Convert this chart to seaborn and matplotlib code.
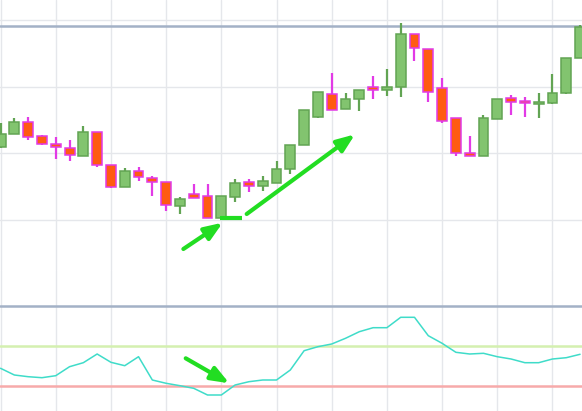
import numpy as np
import pandas as pd
import seaborn as sns
import matplotlib.pyplot as plt
from matplotlib.ticker import MultipleLocator

# candle data (price units, arbitrary scale)
opens = [110.95, 112.9, 114.7, 112.6, 111.4, 110.8, 109.6, 113.2, 108.25, 104.95,
         107.35, 106.3, 105.7, 102.1, 103.9, 103.6, 100.3, 103.45, 105.7, 105.1,
         105.55, 107.65, 111.25, 115.45, 118.9, 116.65, 118.15, 119.95, 119.5, 119.95,
         127.9, 125.65, 119.8, 115.3, 110.05, 109.6, 115.15, 118.3, 117.7, 117.4,
         117.55, 119.05, 124.3]
highs = [114.55, 115.3, 115.45, 112.75, 112.45, 112.0, 114.1, 113.2, 108.25, 107.8,
         107.95, 106.6, 105.7, 103.45, 105.4, 105.4, 103.6, 106.15, 106.15, 106.6,
         108.85, 111.25, 116.5, 119.2, 122.05, 119.05, 119.5, 121.6, 122.65, 129.55,
         127.9, 125.65, 121.3, 115.3, 112.6, 115.75, 118.15, 118.75, 118.45, 119.05,
         121.9, 124.3, 129.25]
lows = [110.8, 112.9, 112.0, 111.25, 109.15, 108.85, 109.6, 107.95, 104.8, 104.95,
        105.85, 103.6, 101.35, 100.9, 103.3, 100.3, 100.3, 102.7, 104.2, 104.35,
        105.55, 106.9, 111.25, 115.3, 116.5, 116.65, 116.35, 118.15, 118.6, 118.45,
        123.85, 117.7, 114.55, 109.6, 109.6, 109.6, 115.15, 115.75, 115.45, 115.3,
        117.4, 118.9, 124.3]
closes = [112.9, 114.7, 112.45, 111.4, 110.95, 109.75, 113.2, 108.25, 104.95, 107.35,
          106.45, 105.7, 102.25, 103.15, 103.3, 100.3, 103.6, 105.55, 105.1, 105.85,
          107.65, 111.25, 116.5, 119.2, 116.5, 118.15, 119.5, 119.5, 119.95, 127.9,
          125.8, 119.2, 114.85, 110.05, 109.6, 115.3, 118.15, 117.7, 117.55, 117.7,
          119.05, 124.3, 128.95]

# oscillator values
osc = [38.85, 35.5, 34.65, 34.15, 35.15, 39.65, 41.65, 46.0, 41.85, 40.15,
       44.65, 33.0, 31.35, 30.15, 28.85, 25.5, 25.5, 30.5, 32.15, 33.0,
       33.0, 38.0, 47.65, 49.65, 51.0, 53.85, 57.15, 59.15, 59.15, 64.35,
       64.35, 55.15, 51.35, 46.85, 46.0, 46.35, 44.65, 43.5, 41.65, 41.65,
       43.5, 44.15, 45.85]
osc_levels = [70, 50, 30]
osc_level_colors = ['#a3b1c6', '#d4f0b0', '#f7aaaa']

resistance = 129.1
support = 100.25

# arrows (start, end) in data units
up_arrow_1 = ((13.25, 95.65), (16.1, 99.6))
up_arrow_2 = ((17.84, 100.9), (25.69, 112.85))
support_seg = (15.9, 17.5)
osc_arrow = ((13.42, 43.85), (16.58, 31.35))

df = pd.DataFrame({'open': opens, 'high': highs, 'low': lows, 'close': closes, 'osc': osc})
df['idx'] = np.arange(len(df))

sns.set_theme(style='white')
fig = plt.figure(figsize=(5.82, 4.11), dpi=100)
ax = fig.add_axes([0, 141 / 411, 1, 270 / 411])
ax2 = fig.add_axes([0, 0, 1, 141 / 411], sharex=ax)

grid_c = '#e5e7eb'
for a in (ax, ax2):
    a.xaxis.set_major_locator(MultipleLocator(4))
    a.grid(True, axis='x', color=grid_c, lw=1)
    a.set_axisbelow(True)
    for s in a.spines.values():
        s.set_visible(False)
    a.tick_params(left=False, bottom=False, labelleft=False, labelbottom=False)
    a.set_xlabel('')
    a.set_ylabel('')
ax.yaxis.set_major_locator(MultipleLocator(10))
ax.grid(True, axis='y', color=grid_c, lw=1)

up = df['close'] >= df['open']
green_face, green_edge = '#82c46f', '#62a453'
red_face, red_edge = '#ff5b12', '#e23ae6'

for mask, face, edge in ((up, green_face, green_edge), (~up, red_face, red_edge)):
    d = df[mask]
    ax.vlines(d['idx'], d['low'], d['high'], color=edge, lw=1.6, zorder=2)
    bot = np.minimum(d['open'], d['close'])
    h = np.maximum((d['close'] - d['open']).abs(), 0.25)
    ax.bar(d['idx'], h, bottom=bot, width=0.72, color=face, edgecolor=edge,
           linewidth=1.1, zorder=3)

ax.axhline(resistance, color='#a3b1c6', lw=1.8, zorder=1)

arrow_c = '#22dd22'
for (s, e) in (up_arrow_1, up_arrow_2):
    ax.annotate('', xy=e, xytext=s,
                arrowprops=dict(arrowstyle='-|>,head_length=0.9,head_width=0.35',
                                color=arrow_c, lw=3, shrinkA=0, shrinkB=0), zorder=5)
ax.plot(support_seg, [support, support], color=arrow_c, lw=3, solid_capstyle='butt', zorder=5)

ax.set_xlim(-0.04, 42.14)
ax.set_ylim(92.5, 133.0)

# oscillator panel
for lvl, c in zip(osc_levels, osc_level_colors):
    ax2.axhline(lvl, color=c, lw=1.8, zorder=1)
sns.lineplot(data=df, x='idx', y='osc', ax=ax2, color='#3fdcc9', lw=1.1, zorder=3)
ax2.annotate('', xy=osc_arrow[1], xytext=osc_arrow[0],
             arrowprops=dict(arrowstyle='-|>,head_length=0.9,head_width=0.35',
                             color=arrow_c, lw=3, shrinkA=0, shrinkB=0), zorder=5)
ax2.set_ylim(17.5, 88)
ax2.set_xlabel('')
ax2.set_ylabel('')

fig.savefig('out.png', dpi=100)
